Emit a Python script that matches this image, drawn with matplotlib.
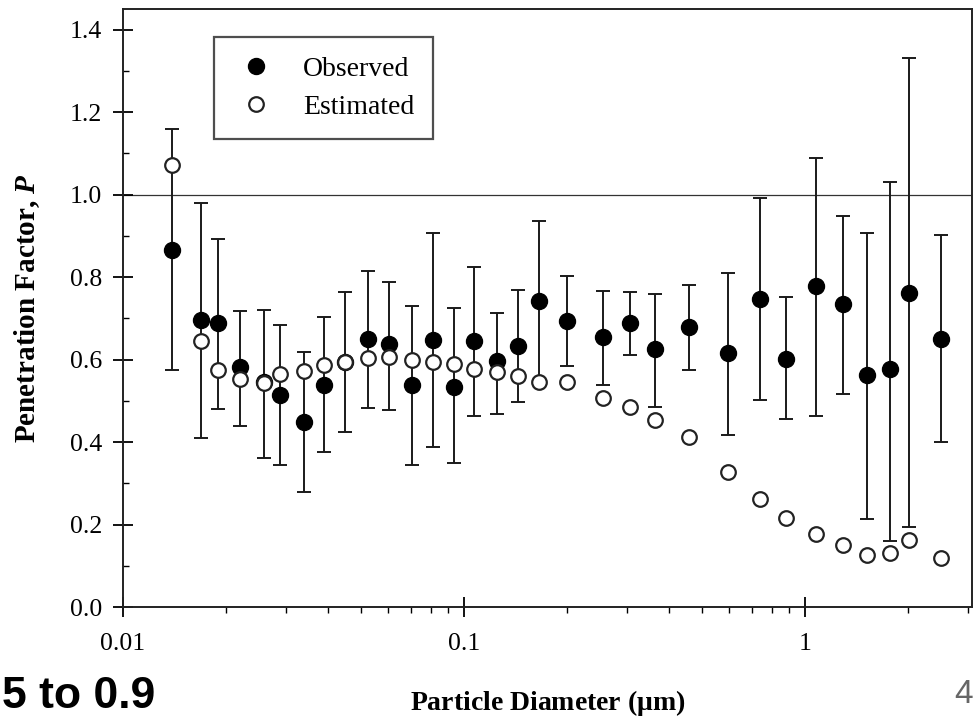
import matplotlib
matplotlib.use("Agg")
import matplotlib.pyplot as plt
from matplotlib.lines import Line2D
import numpy as np

plt.rcParams["font.family"] = ["Liberation Serif", "DejaVu Serif"]
plt.rcParams["mathtext.fontset"] = "custom"
plt.rcParams["mathtext.it"] = "Liberation Serif:italic:bold"

# particle diameter (um) and penetration factor
diam = [0.0139, 0.0169, 0.0190, 0.0220, 0.0259, 0.0289, 0.0340, 0.0389,
        0.0448, 0.0523, 0.0603, 0.0705, 0.0813, 0.0935, 0.107, 0.125,
        0.144, 0.166, 0.200, 0.256, 0.306, 0.363, 0.457, 0.595,
        0.738, 0.881, 1.074, 1.29, 1.52, 1.78, 2.02, 2.50]
observed = [0.865, 0.696, 0.688, 0.583, 0.545, 0.514, 0.449, 0.538,
            0.595, 0.649, 0.637, 0.538, 0.647, 0.534, 0.645, 0.596,
            0.633, 0.743, 0.693, 0.654, 0.689, 0.625, 0.680, 0.615,
            0.747, 0.601, 0.779, 0.734, 0.562, 0.576, 0.762, 0.650]
obs_hi = [1.159, 0.979, 0.892, 0.718, 0.720, 0.684, 0.619, 0.704,
          0.765, 0.815, 0.789, 0.730, 0.906, 0.724, 0.824, 0.713,
          0.768, 0.937, 0.802, 0.767, 0.764, 0.760, 0.782, 0.811,
          0.992, 0.752, 1.089, 0.948, 0.907, 1.031, 1.331, 0.901]
obs_lo = [0.575, 0.411, 0.479, 0.439, 0.362, 0.344, 0.280, 0.377,
          0.425, 0.482, 0.478, 0.344, 0.389, 0.348, 0.464, 0.468,
          0.498, 0.550, 0.584, 0.538, 0.611, 0.486, 0.575, 0.417,
          0.503, 0.455, 0.463, 0.517, 0.214, 0.160, 0.194, 0.400]
estimated = [1.073, 0.646, 0.575, 0.554, 0.542, 0.565, 0.573, 0.587,
             0.595, 0.603, 0.607, 0.599, 0.595, 0.589, 0.576, 0.570,
             0.560, 0.545, 0.545, 0.508, 0.486, 0.453, 0.413, 0.328,
             0.261, 0.215, 0.176, 0.150, 0.127, 0.132, 0.163, 0.118]

x_ticks = [0.01, 0.1, 1]
x_ticklabels = ["0.01", "0.1", "1"]
y_ticks = [0.0, 0.2, 0.4, 0.6, 0.8, 1.0, 1.2, 1.4]

fig = plt.figure(figsize=(9.74, 7.17), dpi=100)
ax = fig.add_axes([0.1263, 0.1534, 0.8717, 0.834])

obs = np.array(observed)
yerr = [obs - np.array(obs_lo), np.array(obs_hi) - obs]

ax.axhline(1.0, color="#333333", lw=0.9, zorder=1)

ax.errorbar(diam, observed, yerr=yerr, fmt="none", ecolor="#1a1a1a",
            elinewidth=1.4, capsize=5, capthick=1.4, zorder=2)
ax.plot(diam, observed, "o", color="black", ms=11.5, zorder=3)
ax.plot(diam, estimated, "o", mfc="white", mec="#222222", mew=1.6,
        ms=10.5, zorder=4)

ax.set_xscale("log")
ax.set_xlim(0.01, 3.09)
ax.set_ylim(0, 1.45)
ax.set_xticks(x_ticks, x_ticklabels)
ax.set_yticks(y_ticks, [f"{v:.1f}" for v in y_ticks])
ax.set_yticks(np.arange(0.1, 1.45, 0.2), minor=True)
ax.xaxis.set_minor_formatter(plt.NullFormatter())

ax.tick_params(axis="both", which="major", direction="inout", length=14,
               width=1.3, labelsize=18.5, top=False, right=False)
ax.tick_params(axis="x", which="major", pad=12)
ax.tick_params(axis="y", which="major", pad=8)
ax.tick_params(axis="x", which="minor", direction="out", length=4, width=1)
ax.tick_params(axis="y", which="minor", direction="in", length=4, width=1)

for side in ["left", "bottom", "top", "right"]:
    ax.spines[side].set_linewidth(1.4)
    ax.spines[side].set_color("#222222")

ax.set_xlabel(r"Particle Diameter ($\mathregular{\mu}$m)", fontsize=20,
              fontweight="bold")
ax.xaxis.set_label_coords(0.5, -0.135)
ax.set_ylabel(r"Penetration Factor, $P$", fontsize=21, fontweight="bold")
ax.yaxis.set_label_coords(-0.095, 0.5)

# legend with a square black frame
handles = [
    Line2D([], [], marker="o", ls="none", color="black", ms=11.5),
    Line2D([], [], marker="o", ls="none", mfc="white", mec="#222222",
           mew=1.6, ms=10.5),
]
leg = ax.legend(handles, ["Observed", "Estimated"], loc="upper left",
                bbox_to_anchor=(0.107, 0.953), borderaxespad=0,
                fontsize=20, frameon=True, fancybox=False,
                handlelength=1.6, handletextpad=0.9, borderpad=0.7,
                labelspacing=0.45)
leg.get_frame().set_edgecolor("#222222")
leg.get_frame().set_linewidth(1.6)

# slide text around the figure
fig.text(0.002, 0.012, "5 to 0.9", fontsize=32, fontweight="bold",
         family="Liberation Sans", ha="left", va="baseline")
fig.text(0.999, 0.01, "4", fontsize=24, color="#666666",
         family="Liberation Sans", ha="right", va="bottom")

fig.savefig("out.png", dpi=100)
